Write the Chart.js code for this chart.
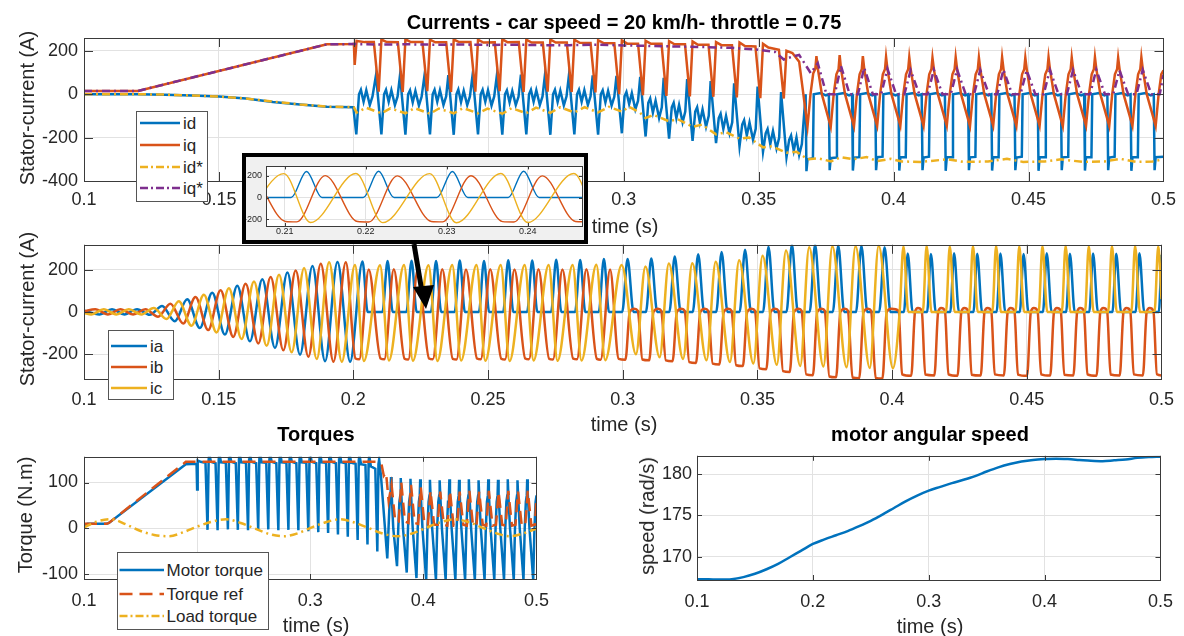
<!DOCTYPE html>
<html>
<head>
<meta charset="utf-8">
<script src="https://cdn.jsdelivr.net/npm/chart.js@4.4.0/dist/chart.umd.min.js"></script>
<style>
  body { margin:0; background:#fff; width:1184px; height:636px; overflow:hidden; position:relative;
         font-family:"Liberation Sans", Arial, sans-serif; color:#262626; }
  canvas { position:absolute; }
  .t { position:absolute; white-space:nowrap; transform:translate(-50%,-50%); font-size:20px; line-height:20px; }
  .b { font-weight:bold; color:#000; }
  .r { transform:translate(-50%,-50%) rotate(-90deg); }
  svg { position:absolute; overflow:visible; }
  svg text { font-family:"Liberation Sans", Arial, sans-serif; font-size:17px; fill:#262626; }
  #inset { position:absolute; left:242px; top:153px; width:346px; height:91px; box-sizing:border-box;
           border:4px solid #000; background:#f0f0f0; }
  #inset canvas { left:0; top:0; }
</style>
</head>
<body>

<canvas id="cTop" width="1184" height="215" style="left:0;top:0"></canvas>
<canvas id="cMid" width="1184" height="195" style="left:0;top:228px"></canvas>
<canvas id="cTrq" width="560" height="185" style="left:0;top:440px"></canvas>
<canvas id="cSpd" width="584" height="185" style="left:600px;top:440px"></canvas>

<div class="t b" style="left:624px;top:22px">Currents - car speed = 20 km/h- throttle = 0.75</div>
<div class="t r" style="left:27px;top:108px">Stator-current (A)</div>
<div class="t" style="left:625px;top:226px">time (s)</div>
<div class="t r" style="left:27px;top:309px">Stator-current (A)</div>
<div class="t" style="left:624px;top:424px">time (s)</div>
<div class="t b" style="left:316px;top:434px">Torques</div>
<div class="t r" style="left:25px;top:515px">Torque (N.m)</div>
<div class="t" style="left:316px;top:625px">time (s)</div>
<div class="t b" style="left:930px;top:434px">motor angular speed</div>
<div class="t r" style="left:647px;top:516px">speed (rad/s)</div>
<div class="t" style="left:930px;top:626px">time (s)</div>

<svg style="left:136px;top:111px" width="72" height="91">
  <rect x="0.5" y="0.5" width="71" height="90" fill="#fff" stroke="#555"/>
  <line x1="4" y1="12" x2="44" y2="12" stroke="#0072BD" stroke-width="2.5"/>
  <text x="47" y="12" dy="0.35em">id</text>
  <line x1="4" y1="34" x2="44" y2="34" stroke="#D95319" stroke-width="2.5"/>
  <text x="47" y="34" dy="0.35em">iq</text>
  <line x1="4" y1="56" x2="44" y2="56" stroke="#EDB120" stroke-width="2.5" stroke-dasharray="8 3 2 3"/>
  <text x="47" y="56" dy="0.35em">id*</text>
  <line x1="4" y1="77" x2="44" y2="77" stroke="#7E2F8E" stroke-width="2.5" stroke-dasharray="8 3 2 3"/>
  <text x="47" y="77" dy="0.35em">iq*</text>
</svg>

<svg style="left:108px;top:330px" width="66" height="70">
  <rect x="0.5" y="0.5" width="65" height="69" fill="#fff" stroke="#555"/>
  <line x1="3" y1="16" x2="39" y2="16" stroke="#0072BD" stroke-width="2.5"/>
  <text x="42" y="16" dy="0.35em">ia</text>
  <line x1="3" y1="37" x2="39" y2="37" stroke="#D95319" stroke-width="2.5"/>
  <text x="42" y="37" dy="0.35em">ib</text>
  <line x1="3" y1="58" x2="39" y2="58" stroke="#EDB120" stroke-width="2.5"/>
  <text x="42" y="58" dy="0.35em">ic</text>
</svg>

<svg style="left:117px;top:552px" width="152" height="78">
  <rect x="0.5" y="0.5" width="151" height="77" fill="#fff" stroke="#555"/>
  <line x1="2.5" y1="18" x2="47" y2="18" stroke="#0072BD" stroke-width="2.5"/>
  <text x="49.5" y="18" dy="0.35em">Motor torque</text>
  <line x1="2.5" y1="42" x2="47" y2="42" stroke="#D95319" stroke-width="2.5" stroke-dasharray="13 7"/>
  <text x="49.5" y="42" dy="0.35em">Torque ref</text>
  <line x1="2.5" y1="64" x2="47" y2="64" stroke="#EDB120" stroke-width="2.5" stroke-dasharray="8 3 2 3"/>
  <text x="49.5" y="64" dy="0.35em">Load torque</text>
</svg>

<div id="inset"><canvas id="cIns" width="338" height="83"></canvas></div>

<svg style="left:0;top:0" width="1184" height="636">
  <line x1="414" y1="244" x2="422" y2="292" stroke="#000" stroke-width="5"/>
  <polygon points="413,287 434,285 426,309" fill="#000"/>
</svg>

<script>
// ---- tick values ----
const timeTicksFine = [0.1, 0.15, 0.2, 0.25, 0.3, 0.35, 0.4, 0.45, 0.5];
const timeTicksCoarse = [0.1, 0.2, 0.3, 0.4, 0.5];
const insetTimeTicks = [0.21, 0.22, 0.23, 0.24];
const dqTicks = [-400, -200, 0, 200];
const phaseTicks = [-200, 0, 200];
const torqueTicks = [-100, 0, 100];
const speedTicks = [170, 175, 180];

// ---- top plot: dq currents (A) ----
const idCur = [
[0.1000,0],[0.1200,0],[0.1300,-3],[0.1400,-6],[0.1500,-11],[0.1600,-20],[0.1700,-36],[0.1800,-48],[0.1900,-58],[0.1998,-60],
[0.2009,-185],[0.2019,0],[0.2026,20],[0.2036,-35],[0.2046,18],[0.2059,-50],[0.2069,-10],
[0.2082,88],[0.2102,-185],[0.2112,0],[0.2119,20],[0.2129,-35],[0.2139,18],[0.2152,-50],[0.2162,-10],
[0.2171,88],[0.2191,-186],[0.2201,0],[0.2208,18],[0.2218,-38],[0.2228,15],[0.2241,-52],[0.2251,-12],
[0.2262,90],[0.2282,-185],[0.2292,0],[0.2299,20],[0.2309,-35],[0.2319,18],[0.2332,-50],[0.2342,-10],
[0.2350,88],[0.2370,-187],[0.2380,0],[0.2387,22],[0.2397,-36],[0.2407,16],[0.2420,-50],[0.2430,-10],
[0.2440,89],[0.2460,-185],[0.2470,0],[0.2477,20],[0.2487,-35],[0.2497,18],[0.2510,-52],[0.2520,-10],
[0.2530,88],[0.2550,-186],[0.2560,0],[0.2567,18],[0.2577,-38],[0.2587,15],[0.2600,-50],[0.2610,-12],
[0.2619,90],[0.2639,-185],[0.2649,0],[0.2656,20],[0.2666,-35],[0.2676,18],[0.2689,-50],[0.2699,-10],
[0.2708,88],[0.2728,-187],[0.2738,0],[0.2745,20],[0.2755,-36],[0.2765,16],[0.2778,-52],[0.2788,-10],
[0.2797,88],[0.2817,-185],[0.2827,0],[0.2834,20],[0.2844,-35],[0.2854,18],[0.2867,-50],[0.2877,-10],
[0.2885,87],[0.2905,-186],[0.2915,0],[0.2922,18],[0.2932,-38],[0.2942,15],[0.2955,-52],[0.2965,-12],
[0.2973,85],[0.2993,-180],[0.3003,-10],[0.3010,10],[0.3020,-45],[0.3030,5],[0.3043,-70],[0.3053,-30],
[0.3061,80],[0.3081,-195],[0.3091,-40],[0.3098,-20],[0.3108,-85],[0.3118,-30],[0.3131,-110],[0.3141,-60],
[0.3148,75],[0.3168,-205],[0.3178,-60],[0.3185,-40],[0.3195,-110],[0.3205,-50],[0.3218,-130],[0.3228,-80],
[0.3235,70],[0.3255,-215],[0.3265,-80],[0.3272,-60],[0.3282,-130],[0.3292,-70],[0.3305,-150],[0.3315,-100],
[0.3322,60],[0.3342,-225],[0.3352,-110],[0.3359,-90],[0.3369,-160],[0.3379,-100],[0.3392,-180],[0.3402,-130],
[0.3409,50],[0.3429,-240],[0.3439,-140],[0.3446,-120],[0.3456,-190],[0.3466,-130],[0.3479,-210],[0.3489,-160],
[0.3496,35],[0.3516,-265],[0.3526,-180],[0.3533,-160],[0.3543,-230],[0.3553,-170],[0.3566,-250],[0.3576,-200],
[0.3583,10],[0.3603,-290],[0.3613,-210],[0.3620,-190],[0.3630,-260],[0.3640,-200],[0.3650,-280],[0.3660,-230],
[0.3674,0],[0.3677,-355],[0.3681,-300],[0.3701,-295],[0.3704,0],[0.3729,5],[0.3749,-5],
[0.3760,0],[0.3763,-350],[0.3767,-295],[0.3787,-292],[0.3790,0],[0.3815,5],[0.3835,-5],
[0.3846,0],[0.3849,-352],[0.3853,-292],[0.3873,-290],[0.3876,0],[0.3901,5],[0.3921,-5],
[0.3932,0],[0.3935,-350],[0.3939,-290],[0.3959,-288],[0.3962,0],[0.3987,5],[0.4007,-5],
[0.4018,0],[0.4021,-352],[0.4025,-290],[0.4045,-290],[0.4048,0],[0.4073,5],[0.4093,-5],
[0.4104,0],[0.4107,-350],[0.4111,-292],[0.4131,-288],[0.4134,0],[0.4159,5],[0.4179,-5],
[0.4190,0],[0.4193,-353],[0.4197,-290],[0.4217,-290],[0.4220,0],[0.4245,5],[0.4265,-5],
[0.4276,0],[0.4279,-350],[0.4283,-291],[0.4303,-289],[0.4306,0],[0.4331,5],[0.4351,-5],
[0.4362,0],[0.4365,-352],[0.4369,-290],[0.4389,-290],[0.4392,0],[0.4417,5],[0.4437,-5],
[0.4448,0],[0.4451,-350],[0.4455,-292],[0.4475,-288],[0.4478,0],[0.4503,5],[0.4523,-5],
[0.4534,0],[0.4537,-353],[0.4541,-290],[0.4561,-290],[0.4564,0],[0.4589,5],[0.4609,-5],
[0.4620,0],[0.4623,-350],[0.4627,-291],[0.4647,-289],[0.4650,0],[0.4675,5],[0.4695,-5],
[0.4706,0],[0.4709,-352],[0.4713,-290],[0.4733,-290],[0.4736,0],[0.4761,5],[0.4781,-5],
[0.4792,0],[0.4795,-350],[0.4799,-292],[0.4819,-288],[0.4822,0],[0.4847,5],[0.4867,-5],
[0.4878,0],[0.4881,-353],[0.4885,-290],[0.4905,-290],[0.4908,0],[0.4933,5],[0.4953,-5],
[0.4964,0],[0.4967,-350],[0.4971,-290],[0.5000,-288]
];
const iqCur = [
[0.1000,15],[0.1200,15],[0.1900,230],[0.1995,231],[0.2000,232],[0.2003,135],[0.2010,245],[0.2040,240],
[0.2074,240],[0.2092,12],[0.2102,252],[0.2122,240],
[0.2163,239],[0.2181,10],[0.2191,253],[0.2211,240],
[0.2254,240],[0.2272,14],[0.2282,251],[0.2302,239],
[0.2342,239],[0.2360,10],[0.2370,252],[0.2390,240],
[0.2432,240],[0.2450,12],[0.2460,251],[0.2480,238],
[0.2522,239],[0.2540,14],[0.2550,253],[0.2570,239],
[0.2611,240],[0.2629,10],[0.2639,251],[0.2659,238],
[0.2700,238],[0.2718,12],[0.2728,252],[0.2748,238],
[0.2789,238],[0.2807,10],[0.2817,251],[0.2837,237],
[0.2877,236],[0.2895,8],[0.2905,249],[0.2925,236],
[0.2965,235],[0.2983,0],[0.2993,248],[0.3013,233],
[0.3053,233],[0.3071,-5],[0.3081,246],[0.3101,232],
[0.3140,232],[0.3158,-8],[0.3168,245],[0.3188,230],
[0.3227,230],[0.3245,-10],[0.3255,243],[0.3275,228],
[0.3314,228],[0.3332,-12],[0.3342,240],[0.3362,226],
[0.3401,226],[0.3419,-15],[0.3429,238],[0.3449,222],
[0.3488,220],[0.3506,-18],[0.3516,232],[0.3536,215],
[0.3575,205],[0.3593,-20],[0.3603,200],[0.3625,190],[0.3650,150],
[0.3681,-148],[0.3692,0],[0.3702,95],[0.3710,118],[0.3714,175],[0.3719,120],[0.3734,0],
[0.3767,-150],[0.3778,0],[0.3788,92],[0.3796,115],[0.3800,180],[0.3805,118],[0.3820,0],
[0.3853,-148],[0.3864,0],[0.3874,92],[0.3882,115],[0.3886,175],[0.3891,118],[0.3906,0],
[0.3939,-146],[0.3950,0],[0.3960,92],[0.3968,115],[0.3972,172],[0.3977,118],[0.3992,0],
[0.4025,-145],[0.4036,0],[0.4046,92],[0.4054,115],[0.4058,170],[0.4063,118],[0.4078,0],
[0.4111,-146],[0.4122,0],[0.4132,92],[0.4140,115],[0.4144,168],[0.4149,118],[0.4164,0],
[0.4197,-145],[0.4208,0],[0.4218,92],[0.4226,115],[0.4230,170],[0.4235,118],[0.4250,0],
[0.4283,-147],[0.4294,0],[0.4304,92],[0.4312,115],[0.4316,169],[0.4321,118],[0.4336,0],
[0.4369,-145],[0.4380,0],[0.4390,92],[0.4398,115],[0.4402,170],[0.4407,118],[0.4422,0],
[0.4455,-146],[0.4466,0],[0.4476,92],[0.4484,115],[0.4488,168],[0.4493,118],[0.4508,0],
[0.4541,-145],[0.4552,0],[0.4562,92],[0.4570,115],[0.4574,170],[0.4579,118],[0.4594,0],
[0.4627,-147],[0.4638,0],[0.4648,92],[0.4656,115],[0.4660,169],[0.4665,118],[0.4680,0],
[0.4713,-145],[0.4724,0],[0.4734,92],[0.4742,115],[0.4746,170],[0.4751,118],[0.4766,0],
[0.4799,-146],[0.4810,0],[0.4820,92],[0.4828,115],[0.4832,168],[0.4837,118],[0.4852,0],
[0.4885,-145],[0.4896,0],[0.4906,92],[0.4914,115],[0.4918,170],[0.4923,118],[0.4938,0],
[0.4971,-146],[0.4982,0],[0.4992,92],[0.5000,110]
];
const idRef = [
[0.1000,0],[0.1200,0],[0.1300,-2],[0.1400,-6],[0.1500,-11],[0.1600,-20],[0.1700,-34],[0.1800,-47],[0.1900,-57],[0.2000,-60],
[0.2010,-85],[0.2045,-62],[0.2102,-88],[0.2135,-65],[0.2191,-88],[0.2225,-64],[0.2282,-90],[0.2315,-66],
[0.2370,-88],[0.2405,-64],[0.2460,-88],[0.2495,-66],[0.2550,-90],[0.2585,-64],[0.2639,-88],[0.2675,-62],
[0.2728,-86],[0.2765,-60],[0.2817,-84],[0.2855,-60],[0.2905,-84],[0.2945,-58],
[0.2993,-80],[0.3020,-58],[0.3060,-85],[0.3081,-110],[0.3110,-95],[0.3168,-125],[0.3200,-115],[0.3255,-150],
[0.3290,-140],[0.3342,-185],[0.3380,-175],[0.3429,-205],[0.3465,-200],[0.3516,-245],[0.3550,-240],[0.3603,-270],
[0.3640,-265],[0.3682,-300],[0.3720,-295],[0.3768,-310],[0.3805,-290],[0.3850,-300],[0.3900,-290],[0.3940,-308],
[0.3990,-298],[0.4030,-310],[0.4100,-312],[0.4200,-300],[0.4260,-312],[0.4350,-310],[0.4420,-298],[0.4480,-312],
[0.4560,-310],[0.4620,-300],[0.4700,-312],[0.4780,-310],[0.4840,-298],[0.4900,-312],[0.4960,-310],[0.5000,-300]
];
const iqRef = [
[0.1000,15],[0.1200,15],[0.1900,230],[0.2000,231],[0.2100,229],[0.2200,230],[0.2300,228],[0.2400,229],
[0.2500,227],[0.2600,228],[0.2700,226],[0.2800,226],[0.2900,228],[0.3000,225],[0.3100,222],[0.3200,220],
[0.3300,217],[0.3400,214],[0.3500,205],[0.3560,195],[0.3593,160],[0.3630,175],[0.3650,181],[0.3693,97],
[0.3719,143],[0.3751,0],
[0.3782,0],[0.3805,130],[0.3837,0],[0.3868,0],[0.3891,122],[0.3923,0],[0.3954,0],[0.3977,118],[0.4009,0],
[0.4040,0],[0.4063,110],[0.4095,0],[0.4126,0],[0.4149,112],[0.4181,0],[0.4212,0],[0.4235,114],[0.4267,0],
[0.4298,0],[0.4321,111],[0.4353,0],[0.4384,0],[0.4407,113],[0.4439,0],[0.4470,0],[0.4493,110],[0.4525,0],
[0.4556,0],[0.4579,112],[0.4611,0],[0.4642,0],[0.4665,111],[0.4697,0],[0.4728,0],[0.4751,113],[0.4783,0],
[0.4814,0],[0.4837,110],[0.4869,0],[0.4900,0],[0.4923,112],[0.4955,0],[0.4986,0],[0.5000,90]
];

// ---- middle plot: phase currents (A) ----
const iaCur = [
[0.1000,6],[0.1057,-12],[0.1104,12],[0.1150,-12],[0.1197,13],[0.1244,-14],[0.1290,28],[0.1337,-44],[0.1383,60],
[0.1430,-76],[0.1476,91],[0.1523,-107],[0.1569,123],[0.1616,-139],[0.1662,154],[0.1709,-170],[0.1755,186],
[0.1802,-202],[0.1848,217],[0.1895,-233],[0.1941,236],[0.1988,-235],
[0.2034,238],[0.2053,0],
[0.2108,0],[0.2127,240],[0.2146,0],[0.2197,0],[0.2216,242],[0.2235,0],[0.2288,0],[0.2307,240],[0.2326,0],
[0.2376,0],[0.2395,243],[0.2414,0],[0.2466,0],[0.2485,241],[0.2504,0],[0.2556,0],[0.2575,244],[0.2594,0],
[0.2645,0],[0.2664,243],[0.2683,0],[0.2734,0],[0.2753,246],[0.2772,0],[0.2823,0],[0.2842,245],[0.2861,0],
[0.2911,0],[0.2930,250],[0.2949,0],
[0.2998,0],[0.3018,250],[0.3040,0],[0.3086,0],[0.3106,252],[0.3128,0],[0.3173,0],[0.3193,262],[0.3215,0],
[0.3260,0],[0.3280,272],[0.3302,0],[0.3347,0],[0.3367,283],[0.3389,0],[0.3434,0],[0.3454,294],[0.3476,0],
[0.3521,0],[0.3541,308],[0.3563,0],[0.3608,0],[0.3628,318],[0.3650,0],[0.3694,0],[0.3714,318],[0.3736,0],
[0.3780,0],[0.3800,314],[0.3822,0],[0.3866,0],[0.3886,312],[0.3908,0],[0.3952,0],[0.3972,306],[0.3994,0],
[0.4044,0],[0.4058,276],[0.4076,0],[0.4130,0],[0.4144,274],[0.4162,0],[0.4216,0],[0.4230,277],[0.4248,0],
[0.4302,0],[0.4316,275],[0.4334,0],[0.4388,0],[0.4402,276],[0.4420,0],[0.4474,0],[0.4488,274],[0.4506,0],
[0.4560,0],[0.4574,277],[0.4592,0],[0.4646,0],[0.4660,275],[0.4678,0],[0.4732,0],[0.4746,276],[0.4764,0],
[0.4818,0],[0.4832,275],[0.4850,0],[0.4904,0],[0.4918,277],[0.4936,0],[0.4990,0],[0.5000,270]
];
const ibCur = [
[0.1000,3],[0.1042,12],[0.1089,-12],[0.1135,12],[0.1182,-12],[0.1228,12],[0.1275,-23],[0.1321,39],[0.1368,-55],
[0.1414,70],[0.1461,-86],[0.1507,102],[0.1554,-118],[0.1600,133],[0.1647,-149],[0.1693,165],[0.1740,-181],
[0.1786,196],[0.1833,-212],[0.1879,228],[0.1926,-235],[0.1972,235],
[0.2008,-220],[0.2022,-224],[0.2057,200],[0.2101,-220],[0.2115,-224],[0.2150,202],
[0.2190,-221],[0.2204,-225],[0.2239,200],[0.2281,-220],[0.2295,-224],[0.2330,201],
[0.2369,-222],[0.2383,-225],[0.2418,200],[0.2459,-220],[0.2473,-224],[0.2508,202],
[0.2549,-221],[0.2563,-225],[0.2598,200],[0.2638,-220],[0.2652,-224],[0.2687,201],
[0.2727,-222],[0.2741,-225],[0.2776,200],[0.2816,-221],[0.2830,-224],[0.2865,202],
[0.2904,-222],[0.2918,-226],[0.2953,200],
[0.2985,-222],[0.3010,-226],[0.3026,0],[0.3043,15],
[0.3056,5],[0.3073,-225],[0.3098,-229],[0.3114,0],[0.3131,15],
[0.3143,5],[0.3160,-229],[0.3185,-233],[0.3201,0],[0.3218,15],
[0.3230,5],[0.3247,-237],[0.3272,-241],[0.3288,0],[0.3305,15],
[0.3317,5],[0.3334,-244],[0.3359,-248],[0.3375,0],[0.3392,15],
[0.3404,5],[0.3421,-252],[0.3446,-256],[0.3462,0],[0.3479,15],
[0.3491,5],[0.3508,-267],[0.3533,-271],[0.3549,0],[0.3566,15],
[0.3578,5],[0.3595,-280],[0.3620,-284],[0.3636,0],[0.3653,15],
[0.3664,5],[0.3681,-295],[0.3706,-299],[0.3722,0],[0.3739,15],
[0.3750,5],[0.3767,-305],[0.3792,-309],[0.3808,0],[0.3825,15],
[0.3836,5],[0.3853,-310],[0.3878,-313],[0.3894,0],[0.3911,15],
[0.3922,5],[0.3939,-312],[0.3964,-315],[0.3980,0],[0.3997,15],
[0.4024,5],[0.4037,-295],[0.4071,-302],[0.4085,0],[0.4096,18],
[0.4110,5],[0.4123,-296],[0.4157,-300],[0.4171,0],[0.4182,18],
[0.4196,5],[0.4209,-295],[0.4243,-302],[0.4257,0],[0.4268,18],
[0.4282,5],[0.4295,-297],[0.4329,-301],[0.4343,0],[0.4354,18],
[0.4368,5],[0.4381,-295],[0.4415,-300],[0.4429,0],[0.4440,18],
[0.4454,5],[0.4467,-296],[0.4501,-302],[0.4515,0],[0.4526,18],
[0.4540,5],[0.4553,-295],[0.4587,-301],[0.4601,0],[0.4612,18],
[0.4626,5],[0.4639,-297],[0.4673,-300],[0.4687,0],[0.4698,18],
[0.4712,5],[0.4725,-295],[0.4759,-302],[0.4773,0],[0.4784,18],
[0.4798,5],[0.4811,-296],[0.4845,-301],[0.4859,0],[0.4870,18],
[0.4884,5],[0.4897,-295],[0.4931,-300],[0.4945,0],[0.4956,18],
[0.4970,5],[0.4983,-295],[0.5000,-300]
];
const icCur = [
[0.1000,-5],[0.1027,-12],[0.1073,12],[0.1120,-12],[0.1166,12],[0.1213,-12],[0.1259,18],[0.1306,-34],[0.1352,50],
[0.1399,-65],[0.1445,81],[0.1492,-97],[0.1538,112],[0.1585,-128],[0.1631,144],[0.1678,-160],[0.1724,175],
[0.1771,-191],[0.1817,207],[0.1864,-223],[0.1910,235],[0.1957,-235],
[0.2006,222],[0.2039,-232],[0.2099,220],[0.2132,-230],[0.2188,221],[0.2221,-231],[0.2279,220],[0.2312,-232],
[0.2367,222],[0.2400,-230],[0.2457,221],[0.2490,-231],[0.2547,222],[0.2580,-232],[0.2636,221],[0.2669,-230],
[0.2725,222],[0.2758,-231],[0.2814,222],[0.2847,-230],[0.2902,223],[0.2935,-228],
[0.2996,222],[0.3049,-200],[0.3084,215],[0.3137,-214],[0.3171,229],[0.3224,-222],[0.3258,230],[0.3311,-229],
[0.3345,237],[0.3398,-237],[0.3432,244],[0.3485,-244],[0.3519,265],[0.3572,-250],[0.3606,290],[0.3659,-255],
[0.3692,305],[0.3745,-258],[0.3778,310],[0.3831,-262],[0.3864,310],[0.3917,-265],[0.3950,312],[0.4003,-266],
[0.4028,0],[0.4042,310],[0.4060,0],[0.4114,0],[0.4128,312],[0.4146,0],[0.4200,0],[0.4214,310],[0.4232,0],
[0.4286,0],[0.4300,311],[0.4318,0],[0.4372,0],[0.4386,312],[0.4404,0],[0.4458,0],[0.4472,310],[0.4490,0],
[0.4544,0],[0.4558,311],[0.4576,0],[0.4630,0],[0.4644,312],[0.4662,0],[0.4716,0],[0.4730,310],[0.4748,0],
[0.4802,0],[0.4816,311],[0.4834,0],[0.4888,0],[0.4902,312],[0.4920,0],[0.4974,0],[0.4988,310],[0.5000,60]
];

// ---- torques (N.m) ----
const motorTorque = [
[0.1000,3],[0.1030,10],[0.1200,10],[0.1220,12],[0.1900,140],[0.1995,141],[0.2000,85],[0.2005,148],[0.2030,145],
[0.2074,143],[0.2092,-3],[0.2102,150],[0.2108,162],[0.2122,145],
[0.2163,142],[0.2181,-4],[0.2191,150],[0.2197,163],[0.2211,144],
[0.2254,143],[0.2272,-2],[0.2282,151],[0.2288,162],[0.2302,145],
[0.2342,142],[0.2360,-3],[0.2370,150],[0.2376,163],[0.2390,144],
[0.2432,143],[0.2450,-4],[0.2460,150],[0.2466,162],[0.2480,145],
[0.2522,142],[0.2540,-3],[0.2550,151],[0.2556,163],[0.2570,144],
[0.2611,143],[0.2629,-2],[0.2639,150],[0.2645,162],[0.2659,145],
[0.2700,142],[0.2718,-4],[0.2728,150],[0.2734,163],[0.2748,144],
[0.2789,143],[0.2807,-3],[0.2817,151],[0.2823,162],[0.2837,145],
[0.2877,142],[0.2895,-4],[0.2905,150],[0.2911,163],[0.2925,144],
[0.2965,143],[0.2983,-6],[0.2993,150],[0.2999,162],[0.3013,145],
[0.3053,142],[0.3071,-8],[0.3081,150],[0.3087,163],[0.3101,144],
[0.3140,143],[0.3158,-10],[0.3168,151],[0.3174,162],[0.3188,145],
[0.3227,142],[0.3245,-13],[0.3255,150],[0.3261,163],[0.3275,144],
[0.3314,142],[0.3332,-18],[0.3342,150],[0.3348,162],[0.3362,143],
[0.3401,141],[0.3419,-25],[0.3429,148],[0.3435,160],[0.3449,140],
[0.3488,138],[0.3506,-35],[0.3516,146],[0.3522,158],[0.3536,135],
[0.3575,130],[0.3593,-50],[0.3603,140],[0.3609,150],[0.3625,115],
[0.3681,-65],[0.3692,0],[0.3702,60],[0.3710,75],[0.3714,112],[0.3719,78],[0.3734,0],
[0.3767,-82],[0.3778,0],[0.3788,58],[0.3796,72],[0.3800,110],[0.3805,75],[0.3820,0],
[0.3853,-96],[0.3864,0],[0.3874,58],[0.3882,72],[0.3886,108],[0.3891,75],[0.3906,0],
[0.3939,-108],[0.3950,0],[0.3960,58],[0.3968,72],[0.3972,107],[0.3977,75],[0.3992,0],
[0.4025,-112],[0.4036,0],[0.4046,58],[0.4054,72],[0.4058,106],[0.4063,75],[0.4078,0],
[0.4111,-112],[0.4122,0],[0.4132,58],[0.4140,72],[0.4144,105],[0.4149,75],[0.4164,0],
[0.4197,-112],[0.4208,0],[0.4218,58],[0.4226,72],[0.4230,107],[0.4235,75],[0.4250,0],
[0.4283,-112],[0.4294,0],[0.4304,58],[0.4312,72],[0.4316,106],[0.4321,75],[0.4336,0],
[0.4369,-112],[0.4380,0],[0.4390,58],[0.4398,72],[0.4402,107],[0.4407,75],[0.4422,0],
[0.4455,-112],[0.4466,0],[0.4476,58],[0.4484,72],[0.4488,105],[0.4493,75],[0.4508,0],
[0.4541,-112],[0.4552,0],[0.4562,58],[0.4570,72],[0.4574,107],[0.4579,75],[0.4594,0],
[0.4627,-112],[0.4638,0],[0.4648,58],[0.4656,72],[0.4660,106],[0.4665,75],[0.4680,0],
[0.4713,-112],[0.4724,0],[0.4734,58],[0.4742,72],[0.4746,107],[0.4751,75],[0.4766,0],
[0.4799,-112],[0.4810,0],[0.4820,58],[0.4828,72],[0.4832,105],[0.4837,75],[0.4852,0],
[0.4885,-112],[0.4896,0],[0.4906,58],[0.4914,72],[0.4918,107],[0.4923,75],[0.4938,0],
[0.4971,-112],[0.4982,0],[0.4992,58],[0.5000,72]
];
const torqueRef = [
[0.1000,10],[0.1200,10],[0.1220,12],[0.1900,145],[0.3600,145],[0.3630,140],[0.3650,115],[0.3670,122],
[0.3693,60],[0.3719,95],[0.3751,15],
[0.3782,15],[0.3805,100],[0.3837,15],[0.3868,12],[0.3891,95],[0.3923,12],[0.3954,10],[0.3977,90],[0.4009,10],
[0.4040,8],[0.4063,82],[0.4095,8],[0.4126,8],[0.4149,80],[0.4181,8],[0.4212,6],[0.4235,82],[0.4267,6],
[0.4298,8],[0.4321,80],[0.4353,8],[0.4384,6],[0.4407,82],[0.4439,6],[0.4470,8],[0.4493,80],[0.4525,8],
[0.4556,6],[0.4579,82],[0.4611,6],[0.4642,8],[0.4665,80],[0.4697,8],[0.4728,6],[0.4751,82],[0.4783,6],
[0.4814,8],[0.4837,80],[0.4869,8],[0.4900,6],[0.4923,82],[0.4955,6],[0.4986,8],[0.5000,70]
];
const loadTorque = [
[0.1000,2],[0.1110,15],[0.1240,20],[0.1370,9],[0.1495,-5],[0.1620,-14],[0.1750,-17],[0.1880,-8],[0.2000,4],
[0.2120,14],[0.2255,20],[0.2385,12],[0.2510,0],[0.2635,-12],[0.2765,-17],[0.2895,-10],[0.3010,2],[0.3130,13],
[0.3260,20],[0.3390,13],[0.3515,1],[0.3640,-11],[0.3770,-17],[0.3900,-11],[0.4020,1],[0.4145,13],[0.4280,20],
[0.4410,13],[0.4530,1],[0.4650,-11],[0.4760,-17],[0.4880,-11],[0.5000,0]
];

// ---- motor speed (rad/s) ----
const motorSpeed = [
[0.100,167.3],[0.110,167.28],[0.120,167.25],[0.130,167.3],[0.140,167.55],[0.150,167.95],[0.160,168.5],
[0.170,169.15],[0.180,169.95],[0.190,170.75],[0.200,171.55],[0.210,172.1],[0.220,172.6],[0.230,173.1],
[0.240,173.7],[0.250,174.35],[0.260,175.1],[0.270,175.9],[0.280,176.7],[0.290,177.4],[0.300,178.0],
[0.310,178.45],[0.320,178.9],[0.330,179.3],[0.340,179.75],[0.350,180.3],[0.360,180.8],[0.370,181.2],
[0.380,181.5],[0.390,181.7],[0.400,181.8],[0.410,181.85],[0.420,181.8],[0.430,181.7],[0.440,181.6],
[0.450,181.55],[0.460,181.65],[0.470,181.75],[0.480,181.95],[0.490,182.05],[0.500,182.1]
];

const BLUE = '#0072BD', ORANGE = '#D95319', YELLOW = '#EDB120', PURPLE = '#7E2F8E';
const FONT = '"Liberation Sans", Arial, sans-serif';
const DASHDOT = [8, 4, 2, 4];

// MATLAB style box with inward tick marks
const boxPlugin = {
  id: 'box',
  beforeDraw(chart, args, opts) {
    if (!opts.fill) return;
    const a = chart.chartArea, ctx = chart.ctx;
    ctx.save(); ctx.fillStyle = opts.fill;
    ctx.fillRect(a.left, a.top, a.right - a.left, a.bottom - a.top);
    ctx.restore();
  },
  afterDraw(chart, args, opts) {
    const {ctx, chartArea: a, scales} = chart;
    const L = opts.len || 6;
    ctx.save();
    ctx.strokeStyle = '#3a3a3a';
    ctx.lineWidth = 1;
    ctx.beginPath();
    scales.x.ticks.forEach(t => {
      const px = Math.round(scales.x.getPixelForValue(t.value)) + 0.5;
      ctx.moveTo(px, a.bottom); ctx.lineTo(px, a.bottom - L);
      ctx.moveTo(px, a.top); ctx.lineTo(px, a.top + L);
    });
    scales.y.ticks.forEach(t => {
      const py = Math.round(scales.y.getPixelForValue(t.value)) + 0.5;
      ctx.moveTo(a.left, py); ctx.lineTo(a.left + L, py);
      ctx.moveTo(a.right, py); ctx.lineTo(a.right - L, py);
    });
    ctx.stroke();
    ctx.strokeRect(Math.round(a.left) + 0.5, Math.round(a.top) + 0.5,
                   Math.round(a.right - a.left), Math.round(a.bottom - a.top));
    ctx.restore();
  }
};

function line(arr, color, width, dash, order, smooth) {
  return {
    data: arr.map(p => ({x: p[0], y: p[1]})),
    borderColor: color, borderWidth: width, borderDash: dash || [],
    pointRadius: 0, fill: false, order: order, tension: 0,
    cubicInterpolationMode: smooth ? 'monotone' : 'default'
  };
}

function makeChart(id, datasets, o) {
  const tickFont = {family: FONT, size: o.fs || 18};
  return new Chart(document.getElementById(id), {
    type: 'line',
    data: {datasets: datasets},
    options: {
      responsive: false, animation: false, events: [], devicePixelRatio: 1,
      layout: {padding: o.pad},
      plugins: {legend: {display: false}, tooltip: {enabled: false}, box: {len: o.tick, fill: o.fill}},
      scales: {
        x: {
          type: 'linear', min: o.xmin, max: o.xmax,
          afterFit: s => { s.height = o.xh; },
          afterBuildTicks: s => { s.ticks = o.xticks.map(v => ({value: v})); },
          grid: {color: '#e2e2e2', drawTicks: false}, border: {display: false},
          ticks: {autoSkip: false, maxRotation: 0, padding: o.xpad, color: '#262626', font: tickFont,
                  callback: v => String(+v.toFixed(2))}
        },
        y: {
          type: 'linear', min: o.ymin, max: o.ymax,
          afterFit: s => { s.width = o.yw; },
          afterBuildTicks: s => { s.ticks = o.yticks.map(v => ({value: v})); },
          grid: {color: '#e2e2e2', drawTicks: false}, border: {display: false},
          ticks: {autoSkip: false, padding: o.ypad, color: '#262626', font: tickFont,
                  callback: v => String(+v.toFixed(2))}
        }
      }
    },
    plugins: [boxPlugin]
  });
}

makeChart('cTop', [
  line(idCur, BLUE, 2.5, null, 4),
  line(iqCur, ORANGE, 2.5, null, 3),
  line(idRef, YELLOW, 2.5, DASHDOT, 2),
  line(iqRef, PURPLE, 2.5, DASHDOT, 1)
], {pad: {top: 38, right: 20, left: 0, bottom: 0}, xh: 34, yw: 84, xmin: 0.1, xmax: 0.5, xticks: timeTicksFine,
    ymin: -400, ymax: 259, yticks: dqTicks, xpad: 8, ypad: 6, tick: 9});

makeChart('cMid', [
  line(iaCur, BLUE, 2.5, null, 3, true),
  line(ibCur, ORANGE, 2.5, null, 2, true),
  line(icCur, YELLOW, 2.5, null, 1, true)
], {pad: {top: 10, right: 20, left: 0, bottom: 0}, xh: 44, yw: 84, xmin: 0.1, xmax: 0.5, xticks: timeTicksFine,
    ymin: -317, ymax: 317, yticks: phaseTicks, xpad: 10, ypad: 6, tick: 9});

makeChart('cTrq', [
  line(motorTorque, BLUE, 2.5, null, 3),
  line(torqueRef, ORANGE, 2.5, [13, 7], 2),
  line(loadTorque, YELLOW, 2.5, DASHDOT, 1, true)
], {pad: {top: 11, right: 11, left: 0, bottom: 0}, xh: 46, yw: 84, xmin: 0.1, xmax: 0.5, xticks: timeTicksCoarse,
    ymin: -110, ymax: 156, yticks: torqueTicks, xpad: 11, ypad: 6, tick: 5});

makeChart('cSpd', [
  line(motorSpeed, BLUE, 2.5, null, 1, true)
], {pad: {top: 11, right: 21, left: 0, bottom: 0}, xh: 45, yw: 97, xmin: 0.1, xmax: 0.5, xticks: timeTicksCoarse,
    ymin: 167.2, ymax: 182.2, yticks: speedTicks, xpad: 11, ypad: 5, tick: 5});

makeChart('cIns', [
  line(iaCur, BLUE, 1.4, null, 3, true),
  line(ibCur, ORANGE, 1.4, null, 2, true),
  line(icCur, YELLOW, 1.4, null, 1, true)
], {pad: {top: 1, right: 2, left: 0, bottom: 0}, xh: 14, yw: 20, xmin: 0.2077, xmax: 0.2467, xticks: insetTimeTicks,
    ymin: -262, ymax: 287, yticks: phaseTicks, xpad: 0, ypad: 4, tick: 3, fs: 9, fill: '#fff'});
</script>
</body>
</html>
